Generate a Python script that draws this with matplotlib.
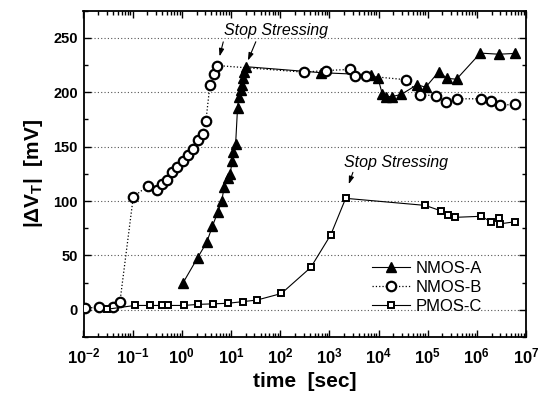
import matplotlib
matplotlib.use("Agg")
import matplotlib.pyplot as plt
from matplotlib.ticker import LogLocator, FixedLocator, MultipleLocator, NullFormatter

plt.rcParams['font.family'] = ['Liberation Sans', 'DejaVu Sans']
plt.rcParams['mathtext.fontset'] = 'custom'
plt.rcParams['mathtext.rm'] = 'Liberation Sans:bold'
plt.rcParams['mathtext.it'] = 'Liberation Sans:bold:italic'
plt.rcParams['mathtext.bf'] = 'Liberation Sans:bold'
plt.rcParams['mathtext.default'] = 'bf'

# ---- data ----
nmos_a_t = [1.05, 2.1, 3.2, 4.2, 5.35, 6.45, 7.3, 8.8, 9.6, 10.6, 11.2, 12.4, 13.6,
            14.5, 15.7, 16.4, 17.2, 18.4, 20.5,
            690, 7200, 9800, 12000, 14500, 18500, 29000, 61000, 91000,
            169000, 247000, 386000, 1.18e6, 2.8e6, 6.0e6]
nmos_a_v = [24.5, 48, 62, 77, 89.6, 100, 113, 121, 125, 137, 145, 152, 186,
            196, 202, 207, 213, 219, 223.5,
            218, 216, 212.8, 198, 196, 196, 198, 207, 204.6,
            219, 212.8, 212, 236, 235, 235.7]

nmos_b_t = [0.0105, 0.021, 0.04, 0.055, 0.103, 0.207, 0.31, 0.39, 0.50, 0.62, 0.81,
            1.04, 1.31, 1.66, 2.1, 2.65, 3.09, 3.73, 4.43, 5.25,
            302, 850, 2640, 3300, 5700, 37000, 69000, 151000, 234000, 397000,
            1.24e6, 1.9e6, 3.0e6, 5.9e6]
nmos_b_v = [1.5, 2.5, 3, 7, 104, 114, 110, 116, 119, 127, 131,
            137, 142, 148, 156, 162, 173.6, 207, 217, 224.6,
            218.5, 220, 221, 215, 215, 211.5, 197.5, 197, 191, 194,
            194, 192, 188, 189]

pmos_c_t = [0.03, 0.11, 0.22, 0.39, 0.52, 1.1, 2.15, 4.36, 8.7, 17.2, 34, 106,
            420, 1070, 2150, 89000, 186000, 260000, 355000, 1.24e6, 1.9e6,
            2.8e6, 2.9e6, 6.1e6]
pmos_c_v = [0.5, 4, 4, 4, 4, 4, 5, 5.5, 6, 7.5, 9, 15,
            39, 69, 102.5, 96, 91, 87, 85, 86, 81,
            84.5, 79, 81]

series_labels = ['NMOS-A', 'NMOS-B', 'PMOS-C']
x_ticks = [1e-2, 1e-1, 1e0, 1e1, 1e2, 1e3, 1e4, 1e5, 1e6, 1e7]
x_tick_labels = [r'$10^{-2}$', r'$10^{-1}$', r'$10^{0}$', r'$10^{1}$', r'$10^{2}$',
                 r'$10^{3}$', r'$10^{4}$', r'$10^{5}$', r'$10^{6}$', r'$10^{7}$']
y_ticks = [0, 50, 100, 150, 200, 250]
annot_text = 'Stop Stressing'

# ---- figure ----
fig = plt.figure(figsize=(5.40, 3.94), dpi=100)
ax = fig.add_axes([83.5 / 540, 1 - 337 / 394, (526 - 83.5) / 540, (337 - 10.7) / 394])

for y in y_ticks:
    ax.axhline(y, color='#555555', lw=0.8, ls=(0, (1, 2)), zorder=0)

ax.plot(nmos_a_t, nmos_a_v, '-', color='black', lw=0.8, marker='^', ms=7,
        mfc='black', mec='black', label=series_labels[0], zorder=3)
ax.plot(nmos_b_t, nmos_b_v, ':', color='black', lw=0.9, marker='o', ms=6.8,
        mfc='white', mec='black', mew=1.6, label=series_labels[1], zorder=3)
ax.plot(pmos_c_t, pmos_c_v, '-', color='black', lw=0.8, marker='s', ms=5,
        mfc='white', mec='black', mew=1.4, label=series_labels[2], zorder=3)

ax.set_xscale('log')
ax.set_xlim(1e-2, 1e7)
ax.set_ylim(-25, 275)
ax.xaxis.set_major_locator(FixedLocator(x_ticks))
ax.set_xticklabels(x_tick_labels)
ax.xaxis.set_minor_locator(LogLocator(base=10, subs=range(2, 10), numticks=100))
ax.xaxis.set_minor_formatter(NullFormatter())
ax.yaxis.set_major_locator(FixedLocator(y_ticks))
ax.yaxis.set_minor_locator(MultipleLocator(25))

ax.tick_params(which='both', direction='in', top=True, right=True, width=1.0)
ax.tick_params(which='major', length=5)
ax.tick_params(axis='y', which='major', labelsize=10.5, pad=4)
ax.tick_params(axis='x', which='major', labelsize=12, pad=7)
ax.tick_params(which='minor', length=3)
for lab in ax.get_yticklabels():
    lab.set_fontweight('bold')
for s in ax.spines.values():
    s.set_linewidth(1.3)

ax.set_xlabel('time  [sec]', fontsize=15, fontweight='bold', labelpad=4)
ax.set_ylabel(r'$|\Delta V_T|$  [mV]', fontsize=15, fontweight='bold', labelpad=6)

# annotations
ax.text(83.8, 256.4, annot_text, style='italic', fontsize=11.5, ha='center', va='center')
ax.annotate('', xy=(5.67, 230.5), xytext=(7.18, 248.8),
            arrowprops=dict(arrowstyle='-|>,head_length=0.45,head_width=0.15', color='black', lw=0.8))
ax.annotate('', xy=(21.0, 226.8), xytext=(33.6, 248.8),
            arrowprops=dict(arrowstyle='-|>,head_length=0.45,head_width=0.15', color='black', lw=0.8))
ax.text(22300, 135, annot_text, style='italic', fontsize=11.5, ha='center', va='center')
ax.annotate('', xy=(2380, 113.1), xytext=(3150, 128.8),
            arrowprops=dict(arrowstyle='-|>,head_length=0.45,head_width=0.15', color='black', lw=0.8))

ax.legend(loc='upper left', bbox_to_anchor=(0.652, 0.232), frameon=False,
          borderpad=0, borderaxespad=0, handlelength=2.3, handletextpad=0.3,
          labelspacing=0.22, fontsize=12)

fig.savefig('out.png', dpi=100)
